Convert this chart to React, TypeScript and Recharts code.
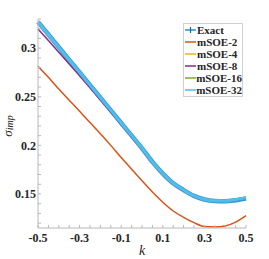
import { Line, LineChart, XAxis, YAxis } from "recharts";

const K = [
  -0.5, -0.45, -0.4, -0.35, -0.3, -0.25, -0.2, -0.15, -0.1, -0.05, 0, 0.05, 0.1, 0.15, 0.2, 0.25, 0.3,
  0.35, 0.4, 0.45, 0.5,
];
const EXACT = [
  0.327, 0.314, 0.301, 0.288, 0.275, 0.262, 0.249, 0.236, 0.223, 0.21, 0.197, 0.183, 0.171, 0.161,
  0.154, 0.148, 0.1443, 0.1428, 0.1425, 0.1435, 0.1452,
];
const MSOE2 = [
  0.2815, 0.27, 0.258, 0.2465, 0.235, 0.2235, 0.212, 0.2, 0.1875, 0.1755, 0.1635, 0.152, 0.1415,
  0.1325, 0.126, 0.1205, 0.1165, 0.116, 0.117, 0.121, 0.1277,
];
const MSOE4 = [
  0.3258, 0.3128, 0.2998, 0.2868, 0.2738, 0.2608, 0.2478, 0.2348, 0.2218, 0.2088, 0.1958, 0.1819,
  0.1699, 0.16, 0.1531, 0.1474, 0.1441, 0.143, 0.1432, 0.1447, 0.1466,
];
const MSOE8 = [
  0.3197, 0.3078, 0.2958, 0.2837, 0.2715, 0.2592, 0.2467, 0.2341, 0.2214, 0.2086, 0.1958, 0.182,
  0.17, 0.1601, 0.1532, 0.1474, 0.1439, 0.1426, 0.1425, 0.1438, 0.1457,
];
const MSOE16 = [
  0.3268, 0.3138, 0.3008, 0.2878, 0.2748, 0.2618, 0.2488, 0.2358, 0.2228, 0.2098, 0.1968, 0.1829,
  0.1709, 0.1609, 0.1539, 0.148, 0.1445, 0.1432, 0.1433, 0.1448, 0.147,
];
const MSOE32 = [
  0.327, 0.314, 0.301, 0.288, 0.275, 0.262, 0.249, 0.236, 0.223, 0.21, 0.197, 0.183, 0.171, 0.161,
  0.154, 0.148, 0.1444, 0.143, 0.1429, 0.1442, 0.146,
];

const X_TICKS = [
  -0.5, -0.45, -0.4, -0.35, -0.3, -0.25, -0.2, -0.15, -0.1, -0.05, 0, 0.05, 0.1, 0.15, 0.2, 0.25, 0.3,
  0.35, 0.4, 0.45, 0.5,
];
const X_LABELS = [-0.5, -0.3, -0.1, 0.1, 0.3, 0.5];
const Y_TICKS = [
  0.12, 0.13, 0.14, 0.15, 0.16, 0.17, 0.18, 0.19, 0.2, 0.21, 0.22, 0.23, 0.24, 0.25, 0.26, 0.27,
  0.28, 0.29, 0.3, 0.31, 0.32, 0.33,
];
const Y_LABELS = [0.15, 0.2, 0.25, 0.3];

const SERIES = [
  { key: "msoe2", name: "mSOE-2", color: "#D95319" },
  { key: "msoe4", name: "mSOE-4", color: "#EDB120" },
  { key: "msoe8", name: "mSOE-8", color: "#7E2F8E" },
  { key: "msoe16", name: "mSOE-16", color: "#77AC30" },
  { key: "msoe32", name: "mSOE-32", color: "#4DBEEE" },
];

const data = K.map((k, i) => ({
  k,
  exact: EXACT[i],
  msoe2: MSOE2[i],
  msoe4: MSOE4[i],
  msoe8: MSOE8[i],
  msoe16: MSOE16[i],
  msoe32: MSOE32[i],
}));

const FONT = "'Liberation Serif', 'Times New Roman', serif";
const AXIS = "#b8b8b8";
const tickStyle = { fontFamily: FONT, fontWeight: 700, fontSize: 12, fill: "#262626" };

function LegendBox() {
  const row = { display: "flex", alignItems: "center", height: 12, whiteSpace: "nowrap" as const };
  return (
    <div
      style={{
        position: "absolute",
        left: 183,
        top: 23,
        width: 60,
        height: 74,
        border: "1px solid #d0d0d0",
        background: "#fff",
        fontFamily: FONT,
        fontWeight: 700,
        fontSize: 11,
        color: "#262626",
        boxSizing: "border-box",
      }}
    >
      <div style={row}>
        <svg width={13} height={12}>
          <line x1={1} y1={6} x2={12} y2={6} stroke="#0072BD" strokeWidth={1.2} />
          <line x1={6.5} y1={3} x2={6.5} y2={9} stroke="#0072BD" strokeWidth={1.2} />
        </svg>
        <span style={{ lineHeight: "12px" }}>Exact</span>
      </div>
      {SERIES.map((s) => (
        <div key={s.key} style={row}>
          <svg width={13} height={12}>
            <line x1={1} y1={6} x2={12} y2={6} stroke={s.color} strokeWidth={1.5} />
          </svg>
          <span style={{ lineHeight: "12px" }}>{s.name}</span>
        </div>
      ))}
    </div>
  );
}

export default function App() {
  return (
    <div style={{ position: "absolute", left: 0, top: 0, width: 269, height: 259, background: "#fff" }}>
      <LineChart width={269} height={259} data={data} margin={{ top: 19, right: 23, bottom: 0, left: 0 }}>
        <XAxis
          dataKey="k"
          type="number"
          domain={[-0.5, 0.5]}
          ticks={X_TICKS}
          interval={0}
          tickFormatter={(v: number) => (X_LABELS.includes(v) ? String(v) : "")}
          height={31}
          tickSize={-3}
          tickMargin={8}
          stroke={AXIS}
          tick={tickStyle}
          label={{
            content: () => (
              <text x={142} y={255} textAnchor="middle" fontFamily={FONT} fontStyle="italic" fontSize={14} fill="#262626">
                k
              </text>
            ),
          }}
        />
        <XAxis
          xAxisId="top"
          orientation="top"
          dataKey="k"
          type="number"
          domain={[-0.5, 0.5]}
          ticks={X_TICKS}
          interval={0}
          tick={false}
          height={0}
          tickSize={-3}
          stroke={AXIS}
        />
        <YAxis
          type="number"
          domain={[0.115, 0.33]}
          ticks={Y_TICKS}
          interval={0}
          tickFormatter={(v: number) => (Y_LABELS.includes(v) ? String(v) : "")}
          width={38}
          tickSize={-3}
          tickMargin={5}
          stroke={AXIS}
          tick={tickStyle}
          allowDataOverflow
          label={{
            content: () => (
              <text
                x={-126}
                y={12}
                transform="rotate(-90)"
                textAnchor="middle"
                fontFamily={FONT}
                fontStyle="italic"
                fontSize={13}
                fill="#262626"
              >
                σ
                <tspan fontSize={10} dy={1}>
                  imp
                </tspan>
              </text>
            ),
          }}
        />
        <YAxis
          yAxisId="right"
          orientation="right"
          type="number"
          domain={[0.115, 0.33]}
          ticks={Y_TICKS}
          interval={0}
          tick={false}
          width={0}
          tickSize={-3}
          stroke={AXIS}
          allowDataOverflow
        />
        <Line
          type="monotone"
          dataKey="exact"
          name="Exact"
          stroke="#3597d6"
          strokeWidth={4.5}
          dot={false}
          isAnimationActive={false}
        />
        {SERIES.map((s) => (
          <Line
            key={s.key}
            type="monotone"
            dataKey={s.key}
            name={s.name}
            stroke={s.color}
            strokeWidth={s.key === "msoe32" ? 3 : 1.5}
            dot={false}
            isAnimationActive={false}
          />
        ))}
      </LineChart>
      <LegendBox />
    </div>
  );
}
